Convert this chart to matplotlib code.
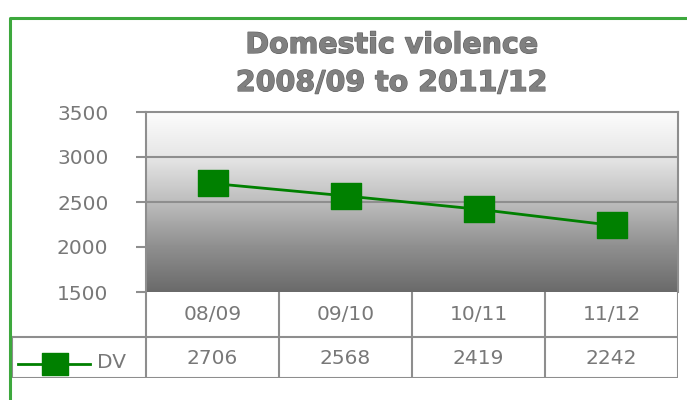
import matplotlib
matplotlib.use("Agg")
import matplotlib.pyplot as plt
import numpy as np
from matplotlib.lines import Line2D
from matplotlib.path import Path
from matplotlib.colors import LinearSegmentedColormap
import matplotlib.patheffects as pe

categories = ["08/09", "09/10", "10/11", "11/12"]
dv_values = [2706, 2568, 2419, 2242]
series_name = "DV"
yticks = [1500, 2000, 2500, 3000, 3500]
title_lines = ["Domestic violence", "2008/09 to 2011/12"]

W, H = 687, 400
fig = plt.figure(figsize=(W / 100, H / 100), dpi=100)
fig.patch.set_facecolor("white")

def fx(px):
    return px / W

def fy(py):
    return 1 - py / H

GRID = "#8e8e8e"
TXT = "#787878"
GREEN = "#008000"

# main axes
L, R, T, B = 146, 678, 112, 292
ax = fig.add_axes([fx(L), fy(B), fx(R - L), (B - T) / H])
x = np.arange(len(categories))
ax.set_xlim(-0.5, len(categories) - 0.5)
ax.set_ylim(yticks[0], yticks[-1])

# gradient background
cmap = LinearSegmentedColormap.from_list(
    "g", [(0, "#6a6a6a"), (0.25, "#8f8f8f"), (0.5, "#bdbdbd"), (0.75, "#e6e6e6"), (1, "#fcfcfc")])
grad = np.linspace(0, 1, 256).reshape(-1, 1)
ax.imshow(grad, cmap=cmap, origin="lower", aspect="auto",
          extent=(-0.5, len(categories) - 0.5, yticks[0], yticks[-1]), zorder=0)

ax.set_yticks(yticks)
ax.set_yticklabels([str(v) for v in yticks], color=TXT, fontsize=14.5)
ax.set_xticks([])
ax.tick_params(axis="y", direction="out", length=7, width=1.5, color=GRID, pad=20)
for yv in yticks[1:-1]:
    ax.axhline(yv, color=GRID, lw=1.5, zorder=1)
for s in ["left", "top", "right", "bottom"]:
    ax.spines[s].set_color(GRID)
    ax.spines[s].set_linewidth(1.5)
ax.spines["bottom"].set_visible(False)

marker = Path([(-1.2, -1), (1.2, -1), (1.2, 1), (-1.2, 1), (-1.2, -1)],
              [Path.MOVETO, Path.LINETO, Path.LINETO, Path.LINETO, Path.CLOSEPOLY])
ax.plot(x, dv_values, color=GREEN, lw=2.0, marker=marker, markersize=22,
        markerfacecolor=GREEN, markeredgecolor=GREEN, zorder=3, clip_on=False)

# title
for i, t in enumerate(title_lines):
    fig.text(fx(392), fy(45 + 38 * i), t, ha="center", va="center",
             fontsize=20.5, fontweight="bold", color="#808080",
             path_effects=[pe.Stroke(linewidth=0.9, foreground="#626262"), pe.Normal()])

# data table
TL, TB = 12, 378
tax = fig.add_axes([fx(TL), fy(TB), fx(R - TL), (TB - B) / H])
colw = (R - L) / len(categories)
tax.set_xlim(-0.5 - (L - TL) / colw, len(categories) - 0.5)
tax.set_ylim(0, TB - B)
tax.axis("off")
ROW = TB - 337  # px height of lower row
kw = dict(color=GRID, lw=1.5, solid_capstyle="projecting")
xl = -0.5 - (L - TL) / colw
tax.plot([xl, len(categories) - 0.5], [0, 0], **kw)
tax.plot([xl, len(categories) - 0.5], [ROW, ROW], **kw)
tax.plot([xl, xl], [0, ROW], **kw)
for k in range(len(categories) + 1):
    tax.plot([k - 0.5, k - 0.5], [0, TB - B], **kw)
for k, (c, v) in enumerate(zip(categories, dv_values)):
    tax.text(k, (TB - B + ROW) / 2, c, ha="center", va="center", color=TXT, fontsize=14.5)
    tax.text(k, ROW / 2 - 1, str(v), ha="center", va="center", color=TXT, fontsize=14.5)

# legend key
ly = TB - 364
x0 = xl + (18 - TL) / colw
x1 = xl + (90 - TL) / colw
xm = xl + (55 - TL) / colw
tax.plot([x0, x1], [ly, ly], color=GREEN, lw=2.0)
tax.plot([xm], [ly], marker=marker, markersize=18.5, color=GREEN, ls="none")
tax.text(xl + (97 - TL) / colw, ly + 1, series_name, ha="left", va="center",
         color=TXT, fontsize=14.5)

# green frame
fig.add_artist(Line2D([fx(10), fx(10), fx(W + 5)], [fy(H + 5), fy(18), fy(18)],
                      transform=fig.transFigure, color="#3da83d", lw=2.2))

fig.savefig("out.png", dpi=100, facecolor="white")
